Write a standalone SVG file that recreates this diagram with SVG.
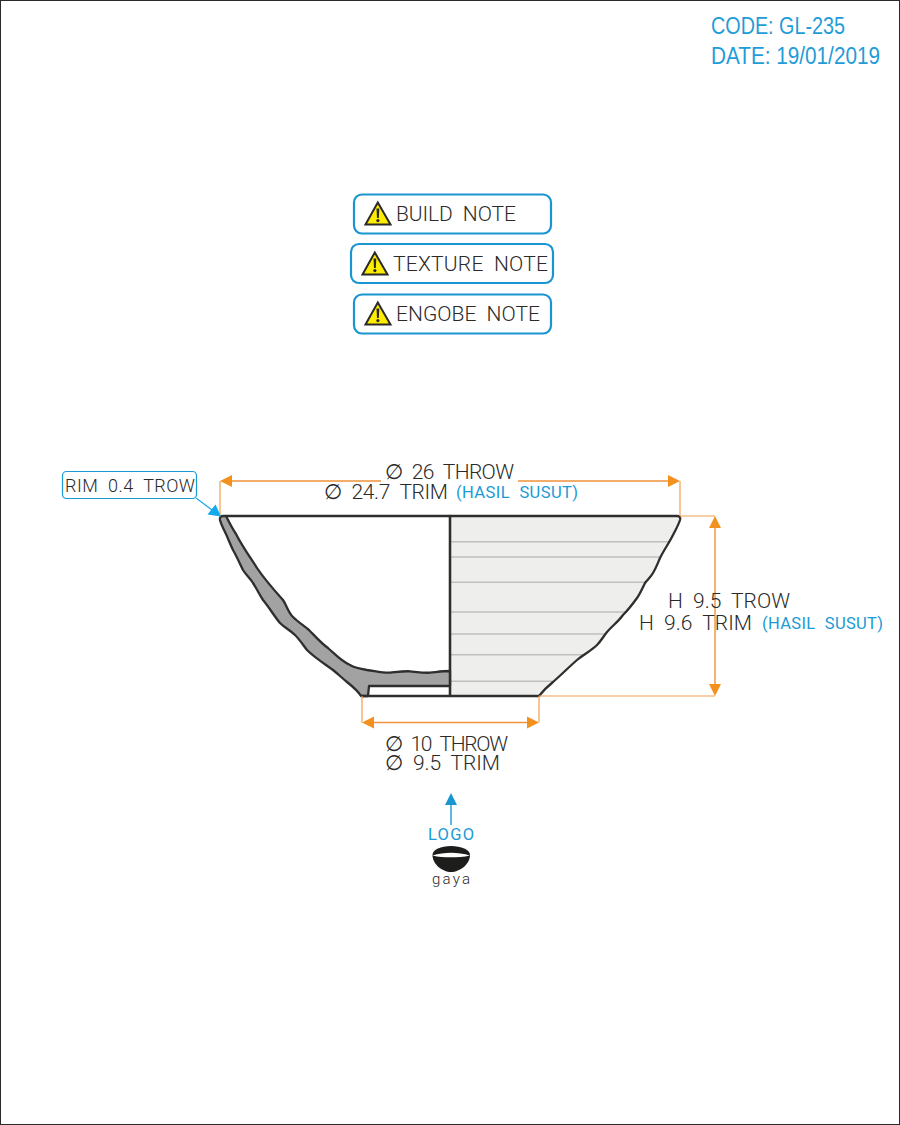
<svg xmlns="http://www.w3.org/2000/svg" xmlns:xlink="http://www.w3.org/1999/xlink" width="900" height="1125" viewBox="0 0 900 1125">
<style>
text{font-family:"Roboto","DejaVu Sans",sans-serif;font-weight:300;fill:#2b2a29;word-spacing:5px}
.dim{font-size:21px}
.note{font-size:21px}
.blue{fill:#1b9ad6;font-weight:400}
.sus{font-size:16.5px;fill:#1b9ad6;font-weight:400}
.hdr{font-family:"Liberation Sans",Arial,sans-serif;font-weight:400;font-size:24.7px;fill:#1f9cd8;word-spacing:0}
.box{fill:#fff;stroke:#1b95d2;stroke-width:2.2}
.o{fill:none;stroke:#f0a050;stroke-width:1.2}
.ob{fill:none;stroke:#f0923a;stroke-width:1.4}
.oh{fill:#f2911e}
.body{stroke:#2f2e2d;stroke-width:2.3;stroke-linejoin:round}
.ring{fill:none;stroke:#bfbfbd;stroke-width:1.4}
</style>
<defs>
<g id="warn">
<path d="M13.3 1.5 L26 23.5 L1 23.5 Z" fill="#ffed00" stroke="#2b2a29" stroke-width="2" stroke-linejoin="miter"/>
<path d="M12 7.5 h2.8 l-0.5 9.5 h-1.8 Z" fill="#2b2a29"/>
<circle cx="13.4" cy="19.6" r="1.6" fill="#2b2a29"/>
</g>
</defs>
<rect x="0.5" y="0.5" width="899" height="1124" fill="#fff" stroke="#2b2a29" stroke-width="1"/>

<g id="header">
<text class="hdr" x="711" y="34.3" textLength="134" lengthAdjust="spacingAndGlyphs">CODE: GL-235</text>
<text class="hdr" x="711" y="64.3" textLength="169" lengthAdjust="spacingAndGlyphs">DATE: 19/01/2019</text>
</g>

<g id="note-build">
<rect class="box" x="354" y="194.5" width="197" height="39" rx="8"/>
<use xlink:href="#warn" href="#warn" x="364.5" y="201"/>
<text class="note" x="396" y="221" textLength="120" lengthAdjust="spacing">BUILD NOTE</text>
</g>
<g id="note-texture">
<rect class="box" x="351" y="244" width="202" height="39" rx="8"/>
<use xlink:href="#warn" href="#warn" x="361.5" y="251"/>
<text class="note" x="393" y="271" textLength="155" lengthAdjust="spacing">TEXTURE NOTE</text>
</g>
<g id="note-engobe">
<rect class="box" x="354" y="294.5" width="197" height="39" rx="8"/>
<use xlink:href="#warn" href="#warn" x="364.5" y="301"/>
<text class="note" x="396" y="321" textLength="144" lengthAdjust="spacing">ENGOBE NOTE</text>
</g>

<g id="bowl">
<path fill="#eeeeed" d="M450 516 H677 Q681 516 680 520 C678 526 675 531 673 535 C669 543 664 550 660 558 C657 565 656 568 653 573 C650 578 648 579 645 583 C642 589 640 594 637 598 C632 605 628 610 623 615 C618 622 612 626 607 632 C603 637 601 641 597 645 C591 651 584 654 577 660 C569 667 561 675 553 682 C548 686 543 691 539 696 H450 Z"/>
<g class="ring">
<path d="M451 541.7 H670"/>
<path d="M451 557 H660"/>
<path d="M451 582.3 H645"/>
<path d="M451 612 H625"/>
<path d="M451 634 H605"/>
<path d="M451 654.7 H583"/>
<path d="M451 681.3 H553"/>
</g>
<path class="body" fill="none" d="M450 516 H677 Q681 516 680 520 C678 526 675 531 673 535 C669 543 664 550 660 558 C657 565 656 568 653 573 C650 578 648 579 645 583 C642 589 640 594 637 598 C632 605 628 610 623 615 C618 622 612 626 607 632 C603 637 601 641 597 645 C591 651 584 654 577 660 C569 667 561 675 553 682 C548 686 543 691 539 696 H450 Z"/>
<path class="body" fill="#a2a2a2" d="M226 516 C229 522 232 528 236 534 C242 546 250 557 257 568 C265 580 274 590 283 600 C287 606 288 612 293 617 C298 622 303 625 309 630 C315 636 321 643 328 648 C335 654 341 661 350 665 C355 668 361 669 367 670 C375 671 382 673 390 672.7 C397 672 403 671 410 671.3 C417 672 423 673 430 672.7 C437 672 443 671 450 671 V686 H369 L368 696 H361 C358 691 352 686 347 682 C342 678 338 674 333 670 C325 664 315 658 307 650 C303 645 300 640 295 635 C290 630 285 628 280 623 C274 616 269 607 263 600 C259 594 257 589 253 583 C250 578 246 575 243 570 C240 564 237 557 233 550 C230 544 228 538 225 532 C223 528 221 524 220 520 Q219.5 516 223 516 Z"/>
<path class="body" fill="none" d="M226 516 H450 V696 M361 696 H450"/>
</g>

<g id="connectors">
<path class="o" d="M220 516 V481 M680 516 V481 M680 516 H715 M539 696 H715 M362 696 V722.5 M539 696 V722.5"/>
<path class="ob" d="M232 481 H381 M518 481 H668 M715 528 V684 M374 722.5 H527"/>
<path class="oh" d="M220 481 L232 475 V487 Z M680 481 L668 475 V487 Z M715 516 L709 528 H721 Z M715 696 L709 684 H721 Z M362 722.5 L374 716.5 V728.5 Z M539 722.5 L527 716.5 V728.5 Z"/>
<path d="M451 825 V804" fill="none" stroke="#1b9ad6" stroke-width="1.4"/>
<path d="M451 793 L457 805 H445 Z" fill="#1b95d2"/>
<path d="M196 498 L212 510" fill="none" stroke="#1aa7ea" stroke-width="1.2"/>
<path d="M221 516.5 L207.5 514.5 L215.5 504.5 Z" fill="#12a9ee"/>
</g>

<g id="rim-label">
<rect x="62.5" y="471.5" width="134" height="27" rx="4" fill="#fff" stroke="#1b9ad6" stroke-width="1.2"/>
<text x="65" y="491.5" font-size="18" textLength="130" lengthAdjust="spacing">RIM 0.4 TROW</text>
</g>

<g id="labels">
<text class="dim" x="385" y="479" textLength="129" lengthAdjust="spacing">∅ 26 THROW</text>
<text class="dim" x="324" y="499" textLength="124" lengthAdjust="spacing">∅ 24.7 TRIM</text>
<text class="sus" x="456" y="498" textLength="122" lengthAdjust="spacing">(HASIL SUSUT)</text>
<text class="dim" x="668" y="608" textLength="122" lengthAdjust="spacing">H 9.5 TROW</text>
<text class="dim" x="639" y="630" textLength="113" lengthAdjust="spacing">H 9.6 TRIM</text>
<text class="sus" x="762" y="629" textLength="121" lengthAdjust="spacing">(HASIL SUSUT)</text>
<text class="dim" x="385" y="751" textLength="123" lengthAdjust="spacing">∅ 10 THROW</text>
<text class="dim" x="385" y="770" textLength="115" lengthAdjust="spacing">∅ 9.5 TRIM</text>
</g>

<g id="logo">
<text class="blue" x="428" y="840" font-size="16.5" textLength="46" lengthAdjust="spacing">LOGO</text>
<path d="M432.5 855 C432.5 849.5 441 846 451 846 C461 846 470 849.5 470 855 C470 864 460 872 451 872 C442 872 432.5 864 432.5 855 Z" fill="#1d1d1b"/>
<path d="M432.5 855.5 C438 853.5 445 852.7 451 852.7 C457 852.7 464 853.500 470 855.5 C464 857 457 857.3 451 857.3 C445 857.3 438 857 432.5 855.5 Z" fill="#fff"/>
<text x="432" y="884" font-size="15" textLength="38" lengthAdjust="spacing">gaya</text>
</g>
</svg>
